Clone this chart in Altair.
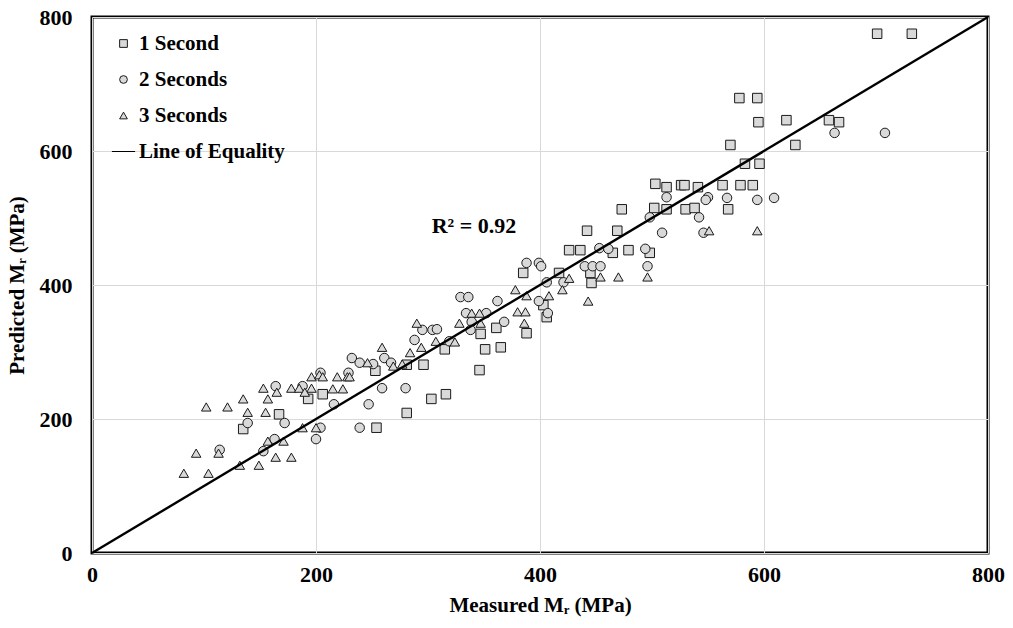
import altair as alt
import pandas as pd

# ---- data ----
sq_x = [701,732,578,594,595,620,658,667,570,628,583,596,503,513,526,529,541,563,579,590,473,502,513,530,538,568,442,469,426,436,465,479,498,385,417,445,446,403,406,388,361,347,315,351,365,296,281,346,303,316,281,253,254,206,193,167,135]
sq_y = [775,775,679,679,643,646,646,643,609,609,581,581,551,546,549,549,546,549,549,549,513,515,513,513,515,513,481,481,452,452,448,452,448,418,418,418,403,370,352,328,336,327,304,304,307,281,281,273,230,237,209,272,187,237,230,207,185]

ci_x = [663,708,513,550,548,567,594,609,498,542,509,546,453,461,494,440,447,454,496,388,399,401,406,421,362,399,407,329,336,334,352,339,368,338,295,304,308,319,288,232,239,251,261,267,204,229,164,188,259,280,216,247,139,172,204,239,163,200,114,153]
ci_y = [627,627,531,531,527,530,527,530,501,501,478,478,455,454,454,428,428,428,428,433,433,428,404,404,376,376,358,382,382,358,358,345,345,333,333,333,334,316,318,291,284,282,291,284,269,269,249,249,246,246,222,222,194,194,187,187,170,170,154,152]

tr_x = [551,594,496,470,454,426,420,408,443,378,388,380,387,386,339,346,347,328,307,324,290,294,284,259,246,269,277,196,203,206,219,228,230,215,224,153,165,157,155,178,185,196,190,102,121,135,139,93,113,82,104,132,149,164,178,157,171,188,200]
tr_y = [481,481,412,412,412,410,393,384,376,393,384,360,360,343,358,358,343,343,316,315,343,307,299,307,284,279,282,263,266,263,263,263,263,245,245,246,240,230,210,246,246,246,240,218,218,230,210,149,149,119,119,131,131,143,143,167,167,187,187]

series_names = ["1 Second", "2 Seconds", "3 Seconds", "Line of Equality"]
series_shapes = ["square", "circle", "triangle-up", "M-3,0H3"]
series_fills = ["#d9d9d9", "#d9d9d9", "#d9d9d9", "#d9d9d9"]
series_strokes = ["#1a1a1a", "#1a1a1a", "#1a1a1a", "#000000"]
series_widths = [1, 1, 1, 3]
equality_x = [0, 800]
equality_y = [0, 800]
tick_values = [0, 200, 400, 600, 800]
r2_label = ["R\u00b2 = 0.92"]
r2_x = [341]
r2_y = [488]

rows = []
for xs_, ys_, name in [(sq_x, sq_y, series_names[0]), (ci_x, ci_y, series_names[1]), (tr_x, tr_y, series_names[2])]:
    for a, b in zip(xs_, ys_):
        rows.append({"measured": a, "predicted": b, "series": name})
df = pd.DataFrame(rows)
eq_df = pd.DataFrame({"measured": equality_x, "predicted": equality_y})
r2_df = pd.DataFrame({"measured": r2_x, "predicted": r2_y, "label": r2_label})

FONT = "Liberation Serif"
xscale = alt.Scale(domain=[0, 800], nice=False, zero=True)
yscale = alt.Scale(domain=[0, 800], nice=False, zero=True)

xaxis = alt.Axis(values=tick_values, title="Measured M\u1d63 (MPa)", grid=True, gridColor="#d9d9d9",
                 gridWidth=1, domain=False, ticks=False, labelFont=FONT, labelFontSize=22,
                 labelFontWeight="bold", labelColor="black", labelPadding=11, titleFont=FONT,
                 titleFontSize=21, titleFontWeight="bold", titleColor="black", titlePadding=9,
                 labelFlush=False)
yaxis = alt.Axis(values=tick_values, title="Predicted M\u1d63 (MPa)", grid=True, gridColor="#d9d9d9",
                 gridWidth=1, domain=False, ticks=False, labelFont=FONT, labelFontSize=22,
                 labelFontWeight="bold", labelColor="black", labelPadding=20, titleFont=FONT,
                 titleFontSize=21, titleFontWeight="bold", titleColor="black", titlePadding=12,
                 labelFlush=False)

legend = alt.Legend(title=None, orient="none", legendX=21, legendY=16, labelFont=FONT,
                    labelFontSize=21, labelFontWeight="bold", labelColor="black", symbolSize=60,
                    rowPadding=14, labelOffset=5, padding=0)

points = alt.Chart(df).mark_point(filled=True, opacity=1, size=90).encode(
    x=alt.X("measured:Q", scale=xscale, axis=xaxis),
    y=alt.Y("predicted:Q", scale=yscale, axis=yaxis),
    shape=alt.Shape("series:O", scale=alt.Scale(domain=series_names, range=series_shapes), legend=legend),
    fill=alt.Fill("series:O", scale=alt.Scale(domain=series_names, range=series_fills), legend=legend),
    stroke=alt.Stroke("series:O", scale=alt.Scale(domain=series_names, range=series_strokes), legend=legend),
    strokeWidth=alt.StrokeWidth("series:O", scale=alt.Scale(domain=series_names, range=series_widths),
                                legend=legend),
)

line = alt.Chart(eq_df).mark_line(color="black", strokeWidth=2.4).encode(
    x=alt.X("measured:Q", scale=xscale),
    y=alt.Y("predicted:Q", scale=yscale),
)

r2 = alt.Chart(r2_df).mark_text(font=FONT, fontSize=22, fontWeight="bold", color="black").encode(
    x=alt.X("measured:Q", scale=xscale),
    y=alt.Y("predicted:Q", scale=yscale),
    text="label:N",
)

chart = alt.layer(points, line, r2).properties(
    width=896, height=536,
    autosize=alt.AutoSizeParams(type="none"),
    padding={"left": 92, "top": 17, "right": 25, "bottom": 75},
    background="white",
).configure_view(stroke="black", strokeWidth=3)

chart.save("out.html", embed_options={"renderer": "svg", "actions": False})
